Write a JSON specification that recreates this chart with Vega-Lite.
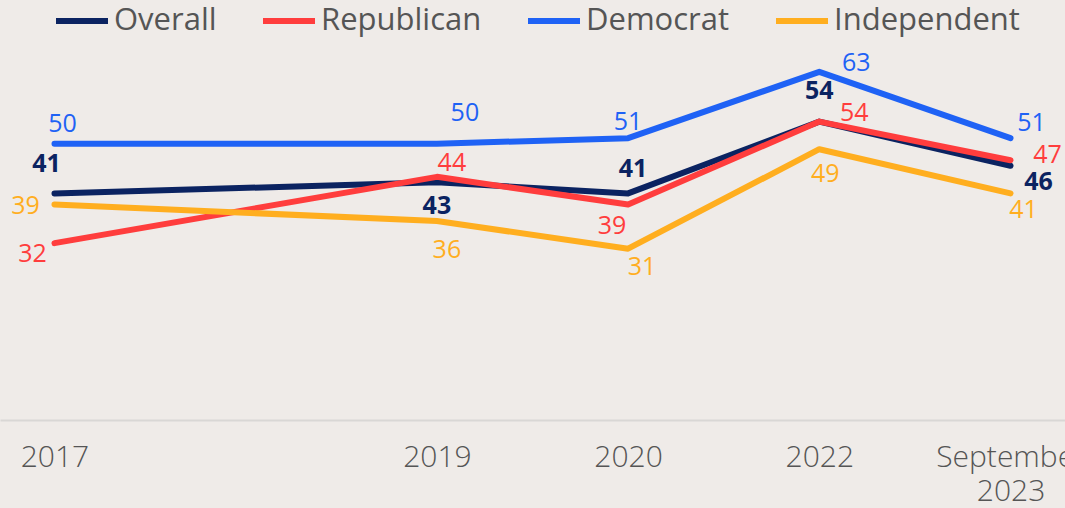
{
  "$schema": "https://vega.github.io/schema/vega-lite/v6.json",
  "width": 1065,
  "height": 420,
  "autosize": {"type": "none"},
  "padding": {"left": 0, "top": 0, "right": 0, "bottom": 88},
  "background": "#EFEBE8",
  "config": {
    "view": {"stroke": null},
    "font": "Open Sans",
    "text": {"font": "Open Sans", "fontSize": 25, "align": "center", "baseline": "middle"}
  },
  "data": {
    "values": [
      {"Series": "Overall", "Year": "2017", "Value": 41},
      {"Series": "Overall", "Year": "2019", "Value": 43},
      {"Series": "Overall", "Year": "2020", "Value": 41},
      {"Series": "Overall", "Year": "2022", "Value": 54},
      {"Series": "Overall", "Year": "September 2023", "Value": 46},
      {"Series": "Republican", "Year": "2017", "Value": 32},
      {"Series": "Republican", "Year": "2019", "Value": 44},
      {"Series": "Republican", "Year": "2020", "Value": 39},
      {"Series": "Republican", "Year": "2022", "Value": 54},
      {"Series": "Republican", "Year": "September 2023", "Value": 47},
      {"Series": "Democrat", "Year": "2017", "Value": 50},
      {"Series": "Democrat", "Year": "2019", "Value": 50},
      {"Series": "Democrat", "Year": "2020", "Value": 51},
      {"Series": "Democrat", "Year": "2022", "Value": 63},
      {"Series": "Democrat", "Year": "September 2023", "Value": 51},
      {"Series": "Independent", "Year": "2017", "Value": 39},
      {"Series": "Independent", "Year": "2019", "Value": 36},
      {"Series": "Independent", "Year": "2020", "Value": 31},
      {"Series": "Independent", "Year": "2022", "Value": 49},
      {"Series": "Independent", "Year": "September 2023", "Value": 41}
    ]
  },
  "encoding": {
    "x": {
      "field": "Year",
      "type": "ordinal",
      "scale": {"type": "point", "domain": ["2017", "2018", "2019", "2020", "2022", "September 2023"], "padding": 0.285},
      "axis": {
        "title": null,
        "values": ["2017", "2019", "2020", "2022", "September 2023"],
        "labelExpr": "datum.value == 'September 2023' ? ['September', '2023'] : datum.value",
        "labelFontSize": 30,
        "labelFontWeight": 300,
        "labelColor": "#555555",
        "labelFont": "Open Sans",
        "labelAngle": 0,
        "labelPadding": 22,
        "labelLineHeight": 34,
        "ticks": false,
        "grid": false,
        "domainColor": "#D9D7D5",
        "domainWidth": 2,
        "labelOverlap": false,
        "labelBound": false,
        "labelFlush": false
      }
    },
    "y": {"field": "Value", "type": "quantitative", "scale": {"domain": [0, 76]}, "axis": null}
  },
  "layer": [
    {
      "mark": {"type": "line", "strokeWidth": 6, "strokeCap": "round", "strokeJoin": "round"},
      "encoding": {
        "color": {
          "field": "Series",
          "type": "nominal",
          "scale": {"domain": ["Overall", "Republican", "Democrat", "Independent"], "range": ["#0B2361", "#FF3D3D", "#1F62F5", "#FFAE1F"]},
          "legend": {
            "orient": "none",
            "legendX": 53,
            "legendY": -8,
            "direction": "horizontal",
            "title": null,
            "symbolType": "stroke",
            "symbolStrokeWidth": 6,
            "symbolSize": 2704,
            "labelFontSize": 31,
            "labelLimit": 0,
            "labelColor": "#555555",
            "labelFont": "Open Sans",
            "columnPadding": 34,
            "labelOffset": 3,
            "padding": 0
          }
        }
      }
    },
    {
      "encoding": {
        "text": {"field": "Value", "type": "quantitative"},
        "color": {"field": "Series", "type": "nominal", "scale": {"domain": ["Overall", "Republican", "Democrat", "Independent"], "range": ["#0B2361", "#FF3D3D", "#1F62F5", "#FFAE1F"]}, "legend": null}
      },
      "layer": [
        {"transform": [{"filter": "datum.Series == 'Overall' && datum.Year == '2017'"}], "mark": {"type": "text", "dx": -8, "dy": -29, "fontWeight": "bold"}},
        {"transform": [{"filter": "datum.Series == 'Overall' && datum.Year == '2019'"}], "mark": {"type": "text", "dx": 0, "dy": 24, "fontWeight": "bold"}},
        {"transform": [{"filter": "datum.Series == 'Overall' && datum.Year == '2020'"}], "mark": {"type": "text", "dx": 5, "dy": -24, "fontWeight": "bold"}},
        {"transform": [{"filter": "datum.Series == 'Overall' && datum.Year == '2022'"}], "mark": {"type": "text", "dx": 0, "dy": -31, "fontWeight": "bold"}},
        {"transform": [{"filter": "datum.Series == 'Overall' && datum.Year == 'September 2023'"}], "mark": {"type": "text", "dx": 28, "dy": 16, "fontWeight": "bold"}},
        {"transform": [{"filter": "datum.Series == 'Republican' && datum.Year == '2017'"}], "mark": {"type": "text", "dx": -22, "dy": 11}},
        {"transform": [{"filter": "datum.Series == 'Republican' && datum.Year == '2019'"}], "mark": {"type": "text", "dx": 15, "dy": -14}},
        {"transform": [{"filter": "datum.Series == 'Republican' && datum.Year == '2020'"}], "mark": {"type": "text", "dx": -16, "dy": 22}},
        {"transform": [{"filter": "datum.Series == 'Republican' && datum.Year == '2022'"}], "mark": {"type": "text", "dx": 35, "dy": -9}},
        {"transform": [{"filter": "datum.Series == 'Republican' && datum.Year == 'September 2023'"}], "mark": {"type": "text", "dx": 37, "dy": -5}},
        {"transform": [{"filter": "datum.Series == 'Democrat' && datum.Year == '2017'"}], "mark": {"type": "text", "dx": 8, "dy": -20}},
        {"transform": [{"filter": "datum.Series == 'Democrat' && datum.Year == '2019'"}], "mark": {"type": "text", "dx": 28, "dy": -31}},
        {"transform": [{"filter": "datum.Series == 'Democrat' && datum.Year == '2020'"}], "mark": {"type": "text", "dx": 0, "dy": -16}},
        {"transform": [{"filter": "datum.Series == 'Democrat' && datum.Year == '2022'"}], "mark": {"type": "text", "dx": 37, "dy": -9}},
        {"transform": [{"filter": "datum.Series == 'Democrat' && datum.Year == 'September 2023'"}], "mark": {"type": "text", "dx": 21, "dy": -15}},
        {"transform": [{"filter": "datum.Series == 'Independent' && datum.Year == '2017'"}], "mark": {"type": "text", "dx": -29, "dy": 2}},
        {"transform": [{"filter": "datum.Series == 'Independent' && datum.Year == '2019'"}], "mark": {"type": "text", "dx": 10, "dy": 29}},
        {"transform": [{"filter": "datum.Series == 'Independent' && datum.Year == '2020'"}], "mark": {"type": "text", "dx": 14, "dy": 18}},
        {"transform": [{"filter": "datum.Series == 'Independent' && datum.Year == '2022'"}], "mark": {"type": "text", "dx": 6, "dy": 25}},
        {"transform": [{"filter": "datum.Series == 'Independent' && datum.Year == 'September 2023'"}], "mark": {"type": "text", "dx": 13, "dy": 17}}
      ]
    }
  ]
}
